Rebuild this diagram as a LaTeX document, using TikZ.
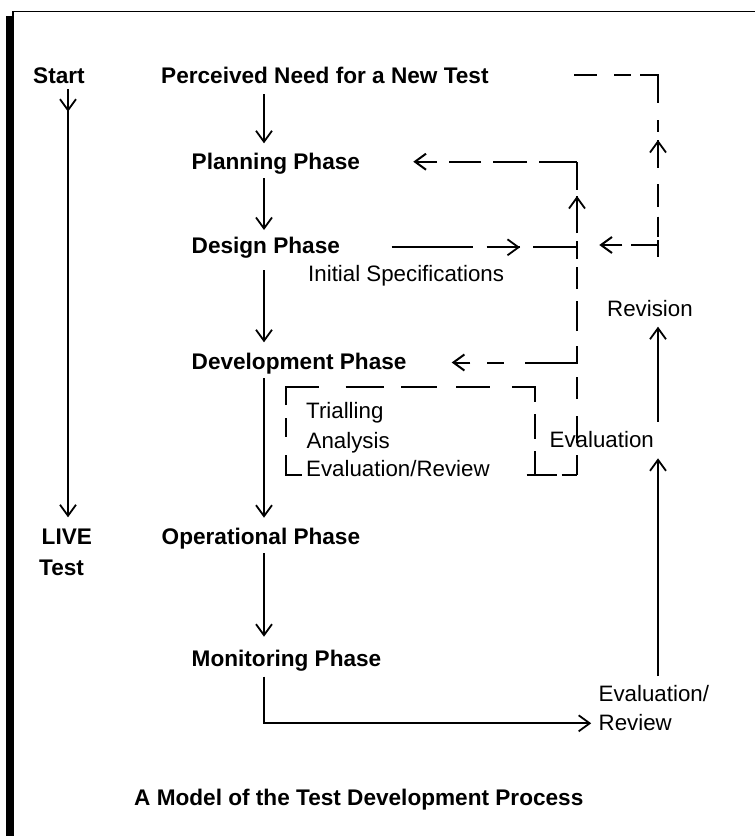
\documentclass[tikz,border=0pt]{standalone}
\usepackage{fontspec}
\setmainfont{Liberation Sans}
\usetikzlibrary{arrows.meta}
\begin{document}
\begin{tikzpicture}[x=1bp,y=-1bp,
  lab/.style={anchor=base west, inner sep=0pt, font=\fontsize{22.3bp}{26bp}\selectfont},
  blab/.style={anchor=base west, inner sep=0pt, font=\fontsize{22.6bp}{26bp}\selectfont\bfseries},
  tipv/.style={-{Straight Barb[length=11bp,width=16bp]}},
  arr/.style={line width=1.8bp, tipv},
  dsh/.style={line width=2bp}]
\useasboundingbox (0,0) rectangle (755,836);
\fill[white] (0,0) rectangle (755,836);
% frame
\fill[black] (6,16) rectangle (14,836);
\draw[line width=1.5bp] (13,16) -- (13,11.5) -- (755,11.5);

% labels
\node[blab] (start) at (33,83) {Start};
\node[blab] (need) at (161,83) {Perceived Need for a New Test};
\node[blab] (plan) at (191.5,169.3) {Planning Phase};
\node[blab] (design) at (191.5,253.3) {Design Phase};
\node[lab] (spec) at (308,281.7) {Initial Specifications};
\node[blab] (dev) at (191.5,369.3) {Development Phase};
\node[lab] (trial) at (306,418) {Trialling};
\node[lab] (anal) at (306.5,448.3) {Analysis};
\node[lab] (evrv) at (306,476.7) {Evaluation/Review};
\node[blab] (live) at (41.5,544.5) {LIVE};
\node[blab] (test) at (39,575) {Test};
\node[blab] (oper) at (161.5,544.5) {Operational Phase};
\node[blab] (mon) at (191.5,666.7) {Monitoring Phase};
\node[lab] (revis) at (607,316.7) {Revision};
\node[lab] (evalr) at (549.5,447) {Evaluation};
\node[lab] (er1) at (598.5,701.7) {Evaluation/};
\node[lab] (er2) at (598.5,730) {Review};
\node[blab] (cap) at (134,805.5) {A Model of the Test Development Process};

% coordinates
\coordinate (s0) at (68,89);
\coordinate (s1) at (68,111.7);
\coordinate (s2) at (68,517.3);
\coordinate (a0) at (264,94);   \coordinate (a1) at (264,143.3);
\coordinate (b0) at (264,178.3);\coordinate (b1) at (264,230);
\coordinate (c0) at (264,270);  \coordinate (c1) at (264,342.3);
\coordinate (d0) at (264,378.3);\coordinate (d1) at (264,517.7);
\coordinate (e0) at (264,553.3);\coordinate (e1) at (264,636.7);
\coordinate (m0) at (264,676.7);\coordinate (m1) at (264,723.3);
\coordinate (m2) at (591.2,723.3);
\coordinate (r0) at (658,676);  \coordinate (r1) at (658,458.3);
\coordinate (q0) at (658,421.7);\coordinate (q1) at (658,326.7);
% inner loop
\coordinate (iT) at (577,161.7);
\coordinate (iB) at (577,475);
\coordinate (plt) at (413.3,161.7);
\coordinate (dsA) at (391.7,247.3);
\coordinate (dsB) at (577,247.3);
\coordinate (dvA) at (577,362.5);
\coordinate (dvt) at (451.7,362.5);
% outer loop
\coordinate (oA) at (574.3,75);
\coordinate (oC) at (658,75);
\coordinate (oB) at (658,256.7);
\coordinate (oM) at (658,245);
\coordinate (oT) at (599.3,245);

% solid arrows
\draw[arr] (s0) -- (s1);
\draw[arr] (s0) -- (s2);
\draw[arr] (a0) -- (a1);
\draw[arr] (b0) -- (b1);
\draw[arr] (c0) -- (c1);
\draw[arr] (d0) -- (d1);
\draw[arr] (e0) -- (e1);
\draw[arr] (m0) -- (m1) -- (m2);
\draw[arr] (r0) -- (r1);
\draw[arr] (q0) -- (q1);

% dashed inner loop
\draw[dsh, tipv, dash pattern=on 38bp off 12bp on 34bp off 12bp on 32bp off 12bp on 80bp] (iT) -- (plt);
\draw[dsh, dash pattern=on 20bp off 12bp on 27bp off 17bp on 22bp off 13bp on 18bp off 15bp on 30bp off 12bp on 22bp off 8bp on 18bp off 8bp on 37bp off 6bp on 40bp] (iB) -- (iT);
\draw[arr] (577,212) -- (577,196);
\draw[dsh, dash pattern=on 81.6bp off 13.4bp on 33.3bp off 13.3bp on 60bp] (dsA) -- (dsB);
\draw[arr] (504,247.3) -- (520,247.3);
\draw[dsh, tipv, dash pattern=on 51.7bp off 21.7bp on 16.6bp off 16.7bp on 60bp] (dvA) -- (dvt);
% box
\draw[dsh, dash pattern=on 36bp off 18.3bp on 18.4bp off 13.3bp on 51bp off 26.7bp on 38.3bp off 17bp on 36bp off 19bp on 34bp off 21.8bp on 38.2bp off 12bp on 25bp off 11.7bp on 30bp]
  (301.7,475) -- (285.7,475) -- (285.7,387.3) -- (535,387.3) -- (535,475);
\draw[dsh, dash pattern=on 30bp off 5bp on 20bp] (526.7,475) -- (iB);

% dashed outer loop
\draw[dsh, dash pattern=on 22.4bp off 17.3bp on 16.7bp off 9.3bp on 45.7bp off 17.3bp on 11.7bp off 8.3bp on 28.3bp off 15.7bp on 22.7bp off 10bp on 20bp off 5bp on 20bp]
  (oA) -- (oC) -- (oB);
\draw[arr] (658,156) -- (658,140);
\draw[dsh, line width=2bp] (658,240) -- (oB);
\draw[dsh, tipv, dash pattern=on 26.6bp off 9bp on 40bp] (oM) -- (oT);
\end{tikzpicture}
\end{document}
